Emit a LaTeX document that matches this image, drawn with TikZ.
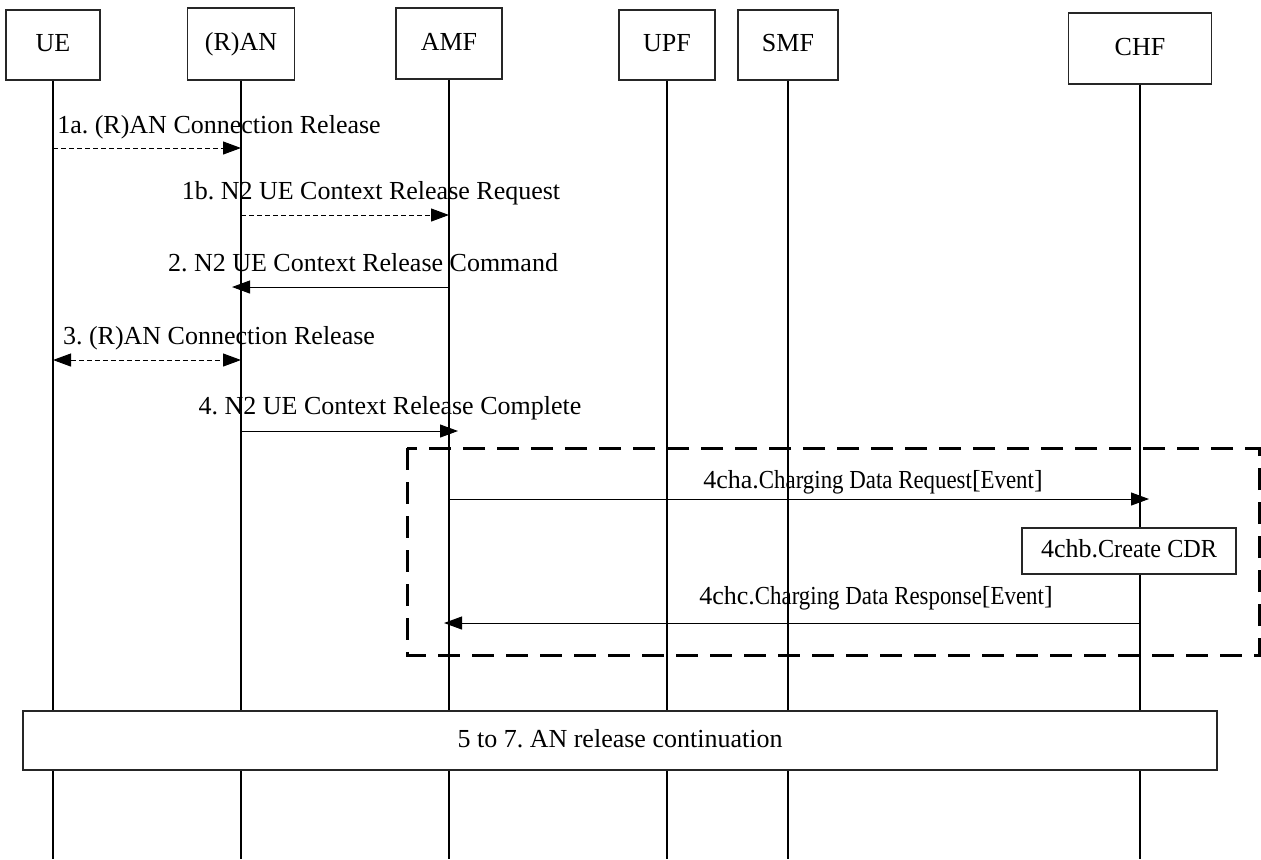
\documentclass[tikz,border=0pt]{standalone}
\usepackage{fontspec}
\usepackage{graphicx}
\setmainfont{Liberation Serif}
\usetikzlibrary{arrows.meta}
\newcommand\cond[1]{\scalebox{0.88}[1]{#1}}
\frenchspacing
\begin{document}
\begin{tikzpicture}[x=0.5pt,y=-0.5pt,
  every node/.style={font=\fontsize{13}{15.6}\selectfont},
  ent/.style={draw=black!85, line width=0.6pt, fill=white, inner sep=0pt, text height=0.66em, text depth=0pt},
  life/.style={line width=1pt},
  msg/.style={line width=0.5pt, -{Triangle[length=9pt,width=6.5pt]}},
  dmsg/.style={msg, dash pattern=on 2.5pt off 1.5pt},
  over/.style={shorten >=-4.5pt},
  lbl/.style={inner sep=0pt},
  grp/.style={line width=1.5pt, dash pattern=on 11pt off 6pt},
]
\useasboundingbox (0,0) rectangle (1261,859);
% entities
\node[ent, minimum width=47pt,   minimum height=35pt]   (ue)  at (53,45)     {UE};
\node[ent, minimum width=53.5pt, minimum height=36pt]   (ran) at (241,44)    {(R)AN};
\node[ent, minimum width=53pt,   minimum height=35.5pt] (amf) at (449,43.5)  {AMF};
\node[ent, minimum width=48pt,   minimum height=35pt]   (upf) at (667,45)    {UPF};
\node[ent, minimum width=50pt,   minimum height=35pt]   (smf) at (788,45)    {SMF};
\node[ent, minimum width=71.5pt, minimum height=35.5pt] (chf) at (1140,48.5) {CHF};
\coordinate (bot) at (0,859);
% lifelines
\foreach \e in {ue,ran,amf,upf,smf,chf}
  \draw[life] (\e.south) -- (\e.south |- bot);
% message levels
\coordinate (y1a) at (0,148);
\coordinate (y1b) at (0,215);
\coordinate (y2)  at (0,287);
\coordinate (y3)  at (0,360);
\coordinate (y4)  at (0,431);
\coordinate (y4a) at (0,499);
\coordinate (y4c) at (0,623);
% 1a
\draw[dmsg] (ue.south |- y1a) -- (ran.south |- y1a);
\node[lbl] (l1a) at (219,127) {1a. (R)AN Connection Release};
% 1b
\draw[dmsg] (ran.south |- y1b) -- (amf.south |- y1b);
\node[lbl] (l1b) at (371,193) {1b. N2 UE Context Release Request};
% 2
\draw[msg, over] (amf.south |- y2) -- (ran.south |- y2);
\node[lbl] (l2) at (363,263) {2. N2 UE Context Release Command};
% 3
\draw[dmsg, {Triangle[length=9pt,width=6.5pt]}-{Triangle[length=9pt,width=6.5pt]}] (ue.south |- y3) -- (ran.south |- y3);
\node[lbl] (l3) at (219,338) {3. (R)AN Connection Release};
% 4
\draw[msg, over] (ran.south |- y4) -- (amf.south |- y4);
\node[lbl] (l4) at (390,408) {4. N2 UE Context Release Complete};
% group frame
\draw[grp] (407,448) rectangle (1259,655);
% 4cha
\draw[msg, over] (amf.south |- y4a) -- (chf.south |- y4a);
\node[lbl] (l4a) at (873,482) {4cha.\cond{Charging Data Request}[\cond{Event}]};
% 4chb
\node[ent, minimum width=107pt, minimum height=23pt] (cdr) at (1129,551) {4chb.\scalebox{0.93}[1]{Create CDR}};
% 4chc
\draw[msg, shorten >=-2.5pt] (chf.south |- y4c) -- (amf.south |- y4c);
\node[lbl] (l4c) at (876,598) {4chc.\cond{Charging Data Response}[\cond{Event}]};
% continuation
\node[ent, minimum width=597pt, minimum height=29.5pt] (cont) at (620,740.5) {5 to 7. AN release continuation};
\end{tikzpicture}
\end{document}
